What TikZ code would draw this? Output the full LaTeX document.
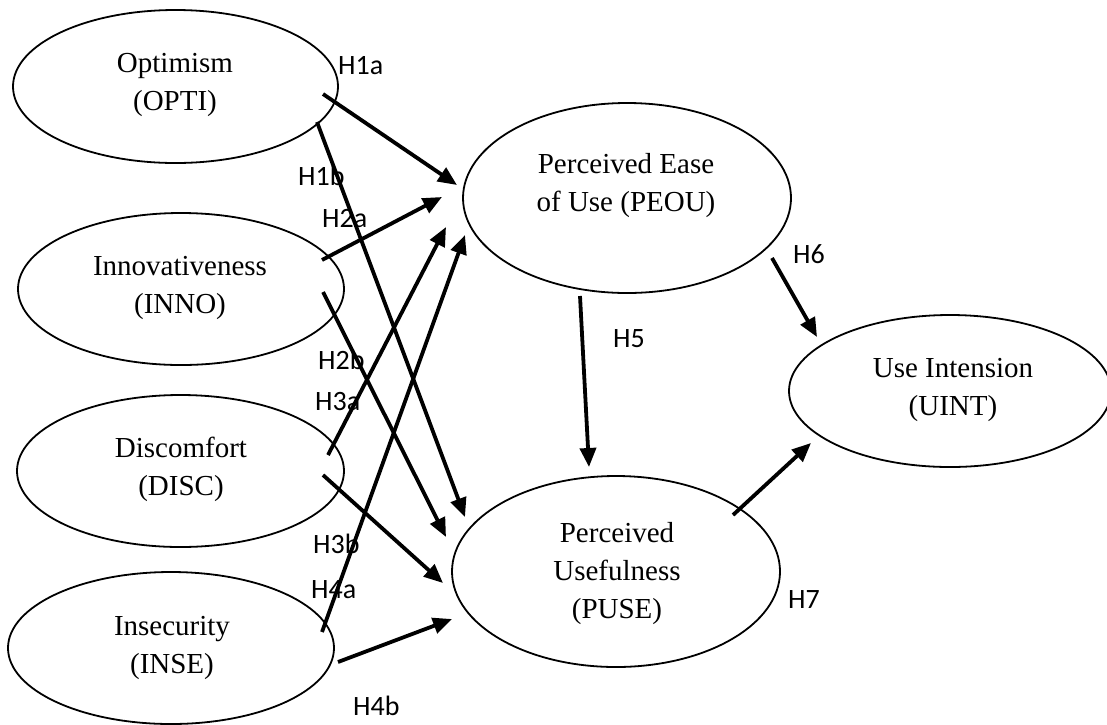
\documentclass[tikz,border=0pt]{standalone}
\usepackage{fontspec}
\setmainfont{Liberation Serif}
\newfontfamily\hfont{Carlito}
\usetikzlibrary{arrows.meta,shapes.geometric}
\tikzset{
  ell/.style={draw=black, line width=1.8pt, ellipse, inner sep=0pt},
  etext/.style={anchor=base, inner sep=0pt, font=\fontsize{29}{38}\selectfont},
  hlab/.style={anchor=base west, inner sep=0pt, font=\hfont\fontsize{28}{32}\selectfont},
  arr/.style={line width=3.8pt, -{Triangle[length=19pt,width=16pt]}},
}
\newcommand{\mytwo}[1]{\setlength{\tabcolsep}{0pt}\begin{tabular}[t]{c}#1\end{tabular}}
\begin{document}
\begin{tikzpicture}[x=1pt,y=-1pt]
\useasboundingbox (0,0) rectangle (1107,724);
\fill[white] (0,0) rectangle (1107,724);
% ellipses
\node[ell, minimum width=325pt, minimum height=153pt] (opti) at (175.5,86.5) {};
\node[ell, minimum width=326pt, minimum height=152pt] (inno) at (181,289) {};
\node[ell, minimum width=327pt, minimum height=152pt] (disc) at (180.5,471) {};
\node[ell, minimum width=326pt, minimum height=152pt] (inse) at (171,648) {};
\node[ell, minimum width=328pt, minimum height=190pt] (peou) at (627,198) {};
\node[ell, minimum width=328pt, minimum height=191pt] (puse) at (616,571.5) {};
\node[ell, minimum width=322pt, minimum height=152pt] (uint) at (950,391) {};
% texts
\node[etext] (optit) at (175,72) {\mytwo{Optimism\\(OPTI)}};
\node[etext] (innot) at (180,275) {\mytwo{Innovativeness\\(INNO)}};
\node[etext] (disct) at (181,457) {\mytwo{Discomfort\\(DISC)}};
\node[etext] (inset) at (172,635) {\mytwo{Insecurity\\(INSE)}};
\node[etext] (peout) at (626,173) {\mytwo{Perceived Ease\\of Use (PEOU)}};
\node[etext] (puset) at (617,542) {\mytwo{Perceived\\Usefulness\\(PUSE)}};
\node[etext] (uintt) at (953,377) {\mytwo{Use Intension\\(UINT)}};
% arrow end points
\coordinate (h1as) at (323,94);  \coordinate (h1ae) at (457,185);
\coordinate (h1bs) at (317,122); \coordinate (h1be) at (465,517);
\coordinate (h2as) at (322,260); \coordinate (h2ae) at (442,197);
\coordinate (h2bs) at (323,292); \coordinate (h2be) at (446,537);
\coordinate (h3as) at (328,455); \coordinate (h3ae) at (446,227);
\coordinate (h3bs) at (323,475); \coordinate (h3be) at (443,583);
\coordinate (h4as) at (322,632); \coordinate (h4ae) at (465,235);
\coordinate (h4bs) at (338,662); \coordinate (h4be) at (452,619);
\coordinate (h5s) at (580,296);  \coordinate (h5e) at (589,467);
\coordinate (h6s) at (772,258);  \coordinate (h6e) at (817,337);
\coordinate (h7s) at (733,515);  \coordinate (h7e) at (811,443);
\draw[arr] (h1as) -- (h1ae);
\draw[arr] (h1bs) -- (h1be);
\draw[arr] (h2as) -- (h2ae);
\draw[arr] (h2bs) -- (h2be);
\draw[arr] (h3as) -- (h3ae);
\draw[arr] (h3bs) -- (h3be);
\draw[arr] (h4as) -- (h4ae);
\draw[arr] (h4bs) -- (h4be);
\draw[arr] (h5s) -- (h5e);
\draw[arr] (h6s) -- (h6e);
\draw[arr] (h7s) -- (h7e);
% labels
\node[hlab] (l1a) at (338,74) {H1a};
\node[hlab] (l1b) at (298,185) {H1b};
\node[hlab] (l2a) at (322,227) {H2a};
\node[hlab] (l2b) at (318,369) {H2b};
\node[hlab] (l3a) at (315,410) {H3a};
\node[hlab] (l3b) at (313,553) {H3b};
\node[hlab] (l4a) at (311,598) {H4a};
\node[hlab] (l4b) at (353,715) {H4b};
\node[hlab] (l5) at (613,347) {H5};
\node[hlab] (l6) at (793,263) {H6};
\node[hlab] (l7) at (788,608) {H7};
\end{tikzpicture}
\end{document}
